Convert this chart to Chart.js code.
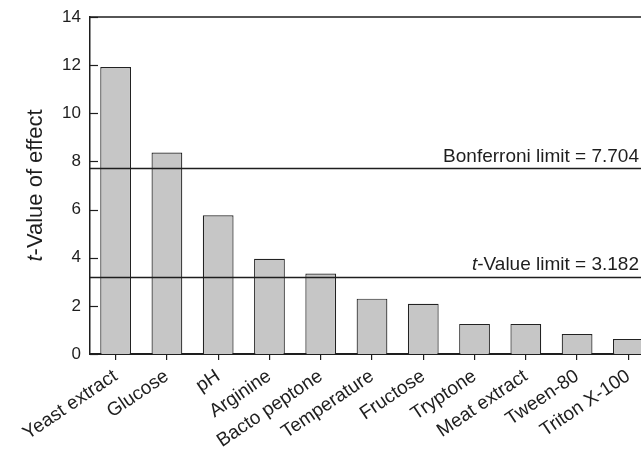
<!DOCTYPE html>
<html>
<head>
<meta charset="utf-8">
<script src="https://cdn.jsdelivr.net/npm/chart.js@4.4.1/dist/chart.umd.min.js"></script>
<style>
  html, body { margin: 0; padding: 0; overflow: hidden; background: #fff; }
  #wrap { width: 660px; height: 454px; }
</style>
</head>
<body>
<div id="wrap"><canvas id="chart" width="660" height="454"></canvas></div>
<script>
// Pareto of effects: factors ranked by their t-value
const factors = ['Yeast extract', 'Glucose', 'pH', 'Arginine', 'Bacto peptone', 'Temperature',
                 'Fructose', 'Tryptone', 'Meat extract', 'Tween-80', 'Triton X-100'];
const tValues = [11.92, 8.37, 5.76, 3.96, 3.34, 2.30, 2.09, 1.25, 1.25, 0.83, 0.62];
const yTicks = [0, 2, 4, 6, 8, 10, 12, 14];
const bonferroniLimit = 7.704;
const tValueLimit = 3.182;

const FONT = "'Liberation Sans', Arial, Helvetica, sans-serif";
const INK = '#1e1e1e';
const LABEL_RIGHT = 639;

// Text with a leading italic "t" followed by upright text
function drawMixed(ctx, size, italicPart, rest, x, y, align) {
  ctx.font = 'italic ' + size + 'px ' + FONT;
  const w1 = ctx.measureText(italicPart).width;
  ctx.font = size + 'px ' + FONT;
  const w2 = ctx.measureText(rest).width;
  let start = x;
  if (align === 'right') start = x - w1 - w2;
  else if (align === 'center') start = x - (w1 + w2) / 2;
  ctx.textAlign = 'left';
  ctx.font = 'italic ' + size + 'px ' + FONT;
  ctx.fillText(italicPart, start, y);
  ctx.font = size + 'px ' + FONT;
  ctx.fillText(rest, start + w1, y);
}

const decorations = {
  id: 'decorations',
  afterDatasetsDraw(chart) {
    const { ctx, chartArea: a, scales: { y } } = chart;
    ctx.save();
    ctx.strokeStyle = INK;
    ctx.fillStyle = INK;

    // top frame line
    ctx.lineWidth = 1.5;
    ctx.beginPath();
    ctx.moveTo(a.left, a.top);
    ctx.lineTo(a.right, a.top);
    ctx.stroke();

    // inward y ticks
    ctx.lineWidth = 1.2;
    yTicks.forEach(v => {
      const py = Math.round(y.getPixelForValue(v)) + 0.5;
      ctx.beginPath();
      ctx.moveTo(a.left, py);
      ctx.lineTo(a.left + 8, py);
      ctx.stroke();
    });

    // limit lines with their labels
    ctx.lineWidth = 1.5;
    [[bonferroniLimit, '', 'Bonferroni limit = ' + bonferroniLimit.toFixed(3)],
     [tValueLimit, 't', '-Value limit = ' + tValueLimit.toFixed(3)]].forEach(([v, it, txt]) => {
      const py = y.getPixelForValue(v);
      ctx.beginPath();
      ctx.moveTo(a.left, py);
      ctx.lineTo(a.right, py);
      ctx.stroke();
      ctx.textBaseline = 'alphabetic';
      drawMixed(ctx, 19, it, txt, LABEL_RIGHT, py - 7, 'right');
    });

    // y axis title
    ctx.save();
    ctx.translate(42, (a.top + a.bottom) / 2);
    ctx.rotate(-Math.PI / 2);
    ctx.textBaseline = 'alphabetic';
    drawMixed(ctx, 22, 't', '-Value of effect', 0, 0, 'center');
    ctx.restore();

    ctx.restore();
  }
};

new Chart(document.getElementById('chart'), {
  type: 'bar',
  data: {
    labels: factors,
    datasets: [{
      data: tValues,
      backgroundColor: '#c6c6c6',
      borderColor: '#222',
      borderWidth: 1.2,
      borderSkipped: 'bottom',
      categoryPercentage: 1.0,
      barPercentage: 0.6
    }]
  },
  options: {
    responsive: false,
    animation: false,
    devicePixelRatio: 1,
    layout: { padding: { top: 17, right: 6, left: 0, bottom: 0 } },
    plugins: { legend: { display: false }, tooltip: { enabled: false } },
    scales: {
      x: {
        offset: true,
        grid: { display: true, drawOnChartArea: false, drawTicks: true, tickLength: 6,
                offset: false, color: INK, lineWidth: 1.2 },
        border: { display: true, color: INK, width: 2 },
        ticks: { autoSkip: false, minRotation: 34, maxRotation: 34, padding: 5,
                 color: INK, font: { family: FONT, size: 19 } },
        afterFit(s) { s.height = 100; s.paddingLeft = 0; s.paddingRight = 0; }
      },
      y: {
        min: 0, max: 14,
        grid: { display: false, drawTicks: false },
        border: { display: true, color: INK, width: 1.5 },
        ticks: { stepSize: 2, padding: 9, color: INK, font: { family: FONT, size: 17 } },
        afterFit(s) { s.width = 90; s.paddingTop = 0; s.paddingBottom = 0; }
      }
    }
  },
  plugins: [decorations]
});
</script>
</body>
</html>
